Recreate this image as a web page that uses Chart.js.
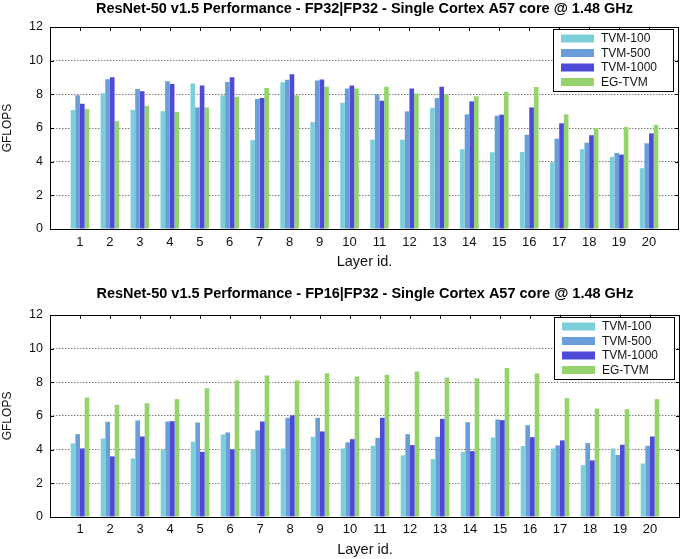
<!DOCTYPE html>
<html>
<head>
<meta charset="utf-8">
<script src="https://cdn.jsdelivr.net/npm/chart.js@4.4.1/dist/chart.umd.min.js"></script>
<style>
  html, body { margin: 0; padding: 0; background: #fff; }
  .box { position: absolute; left: 0; width: 685px; }
  #top { top: 0; height: 280px; }
  #bottom { top: 280px; height: 279px; }
</style>
</head>
<body>
<div class="box" id="top"><canvas id="fp32Chart"></canvas></div>
<div class="box" id="bottom"><canvas id="fp16Chart"></canvas></div>
<script>
// === Data ===
const layers = ['1','2','3','4','5','6','7','8','9','10','11','12','13','14','15','16','17','18','19','20'];
const seriesNames = ['TVM-100', 'TVM-500', 'TVM-1000', 'EG-TVM'];
const yTicks = [0, 2, 4, 6, 8, 10, 12];

// FP32|FP32
const fp32Tvm100  = [7.07, 8.07, 7.08, 7.00, 8.64, 7.95, 5.29, 8.72, 6.35, 7.50, 5.31, 5.31, 7.20, 4.74, 4.56, 4.58, 3.97, 4.74, 4.28, 3.61];
const fp32Tvm500  = [7.95, 8.90, 8.31, 8.78, 7.22, 8.74, 7.72, 8.86, 8.82, 8.35, 8.00, 6.99, 7.78, 6.81, 6.73, 5.60, 5.37, 5.13, 4.52, 5.09];
const fp32Tvm1000 = [7.44, 9.02, 8.19, 8.62, 8.53, 9.02, 7.78, 9.20, 8.88, 8.53, 7.62, 8.35, 8.45, 7.58, 6.79, 7.22, 6.28, 5.57, 4.42, 5.68];
const fp32EgTvm   = [7.12, 6.41, 7.32, 6.95, 7.22, 7.85, 8.37, 7.95, 8.45, 8.35, 8.45, 8.05, 8.00, 7.89, 8.15, 8.43, 6.81, 6.00, 6.06, 6.18];

// FP16|FP32
const fp16Tvm100  = [4.37, 4.66, 3.48, 3.99, 4.47, 4.90, 4.01, 4.07, 4.76, 4.07, 4.23, 3.66, 3.44, 3.87, 4.72, 4.21, 4.07, 3.08, 4.07, 3.18];
const fp16Tvm500  = [4.92, 5.65, 5.73, 5.67, 5.61, 5.02, 5.14, 5.89, 5.89, 4.43, 4.70, 4.92, 4.76, 5.63, 5.79, 5.45, 4.25, 4.39, 3.68, 4.23];
const fp16Tvm1000 = [4.07, 3.60, 4.78, 5.69, 3.87, 4.01, 5.67, 6.03, 5.08, 4.62, 5.89, 4.27, 5.83, 3.91, 5.75, 4.74, 4.55, 3.36, 4.29, 4.78];
const fp16EgTvm   = [7.09, 6.66, 6.76, 7.00, 7.65, 8.10, 8.40, 8.10, 8.54, 8.34, 8.44, 8.64, 8.28, 8.24, 8.85, 8.52, 7.06, 6.44, 6.40, 7.00];

const colors = ['#7ccedb', '#6a9ed9', '#4d4ad8', '#95d46d'];
const FONT = '"Liberation Sans", Arial, Helvetica, sans-serif';

// pad one empty slot on each side so layer 1..20 sit like gnuplot's 0..21 range
const pad = arr => [null, ...arr, null];

// === Plugins ===
const frame = {
    id: 'frame',
    afterDatasetsDraw(chart) {
        const { ctx, chartArea: a, scales } = chart;
        ctx.save();
        ctx.strokeStyle = '#000';
        ctx.lineWidth = 1;
        ctx.beginPath();
        // ticks on top edge at every layer
        for (let i = 1; i <= layers.length; i++) {
            const x = Math.round(scales.x.getPixelForValue(i)) + 0.5;
            ctx.moveTo(x, a.top); ctx.lineTo(x, a.top + 4);
        }
        // ticks on right and left edge
        yTicks.forEach(v => {
            const y = Math.round(scales.y.getPixelForValue(v)) + 0.5;
            ctx.moveTo(a.right, y); ctx.lineTo(a.right - 4, y);
            ctx.moveTo(a.left, y); ctx.lineTo(a.left + 4, y);
        });
        ctx.stroke();
        ctx.strokeRect(Math.round(a.left) + 0.5, Math.round(a.top) + 0.5,
                       Math.round(a.right - a.left) - 1, Math.round(a.bottom - a.top));
        ctx.restore();
    }
};

const boxLegend = {
    id: 'boxLegend',
    afterDraw(chart) {
        const { ctx, chartArea: a } = chart;
        const w = 120, h = 62;
        const x0 = Math.round(a.right) - 6 - w, y0 = Math.round(a.top) + 2;
        ctx.save();
        ctx.fillStyle = '#fff';
        ctx.fillRect(x0, y0, w, h);
        ctx.strokeStyle = '#000';
        ctx.lineWidth = 1;
        ctx.strokeRect(x0 + 0.5, y0 + 0.5, w, h);
        ctx.font = '12px ' + FONT;
        ctx.textBaseline = 'middle';
        chart.data.datasets.forEach((ds, i) => {
            const cy = y0 + 9.5 + i * 14.5;
            ctx.fillStyle = ds.backgroundColor;
            ctx.fillRect(x0 + 8, cy - 4, 33, 8);
            ctx.fillStyle = '#111';
            ctx.fillText(ds.label, x0 + 48, cy + 0.5);
        });
        ctx.restore();
    }
};

// === Chart builder ===
function makeChart(canvasId, titleText, series, lay) {
    const ctx = document.getElementById(canvasId).getContext('2d');
    return new Chart(ctx, {
        type: 'bar',
        data: {
            labels: ['', ...layers, ''],
            datasets: series.map((vals, i) => ({
                label: seriesNames[i],
                data: pad(vals),
                backgroundColor: colors[i],
                borderWidth: 0,
                categoryPercentage: 0.62,
                barPercentage: 1.0
            }))
        },
        options: {
            responsive: true,
            maintainAspectRatio: false,
            animation: false,
            layout: { padding: { top: lay.padTop, right: 2, left: 0, bottom: 0 } },
            plugins: {
                legend: { display: false },
                tooltip: { enabled: false },
                title: {
                    display: true,
                    fullSize: false, // center over the plot, not the canvas
                    text: titleText,
                    color: '#000',
                    font: { family: FONT, size: 14.5, weight: 'bold' },
                    padding: { top: 0, bottom: lay.titleGap }
                }
            },
            scales: {
                x: {
                    offset: false,
                    grid: { display: false, drawTicks: false },
                    border: { display: false },
                    ticks: { color: '#111', font: { family: FONT, size: 13 }, padding: lay.tickPad, maxRotation: 0, autoSkip: false },
                    title: { display: true, text: 'Layer id.', color: '#111', font: { family: FONT, size: 14.5 }, padding: { top: 0, bottom: lay.xTitlePad } },
                    afterFit(scale) { scale.height = lay.xHeight; }
                },
                y: {
                    min: 0, max: 12,
                    afterBuildTicks(scale) { scale.ticks = yTicks.map(v => ({ value: v })); },
                    grid: {
                        drawTicks: false,
                        color: c => (c.tick.value === 0 || c.tick.value === 12) ? 'rgba(0,0,0,0)' : '#7a7a7a',
                        lineWidth: 1
                    },
                    border: { display: false, dash: [1.5, 1.5] },
                    ticks: { color: '#111', font: { family: FONT, size: 12.5 }, padding: 7 },
                    title: { display: true, text: 'GFLOPS', color: '#111', font: { family: FONT, size: 12 }, padding: { top: 0, bottom: 0 } },
                    afterFit(scale) { scale.width = 50; }
                }
            }
        },
        plugins: [frame, boxLegend]
    });
}

makeChart('fp32Chart', 'ResNet-50 v1.5 Performance - FP32|FP32 - Single Cortex A57 core @ 1.48 GHz',
    [fp32Tvm100, fp32Tvm500, fp32Tvm1000, fp32EgTvm],
    { padTop: 0, titleGap: 9.6, tickPad: 6, xHeight: 51, xTitlePad: 9 });

makeChart('fp16Chart', 'ResNet-50 v1.5 Performance - FP16|FP32 - Single Cortex A57 core @ 1.48 GHz',
    [fp16Tvm100, fp16Tvm500, fp16Tvm1000, fp16EgTvm],
    { padTop: 5.5, titleGap: 12, tickPad: 5, xHeight: 42, xTitlePad: 0 });
</script>
</body>
</html>
